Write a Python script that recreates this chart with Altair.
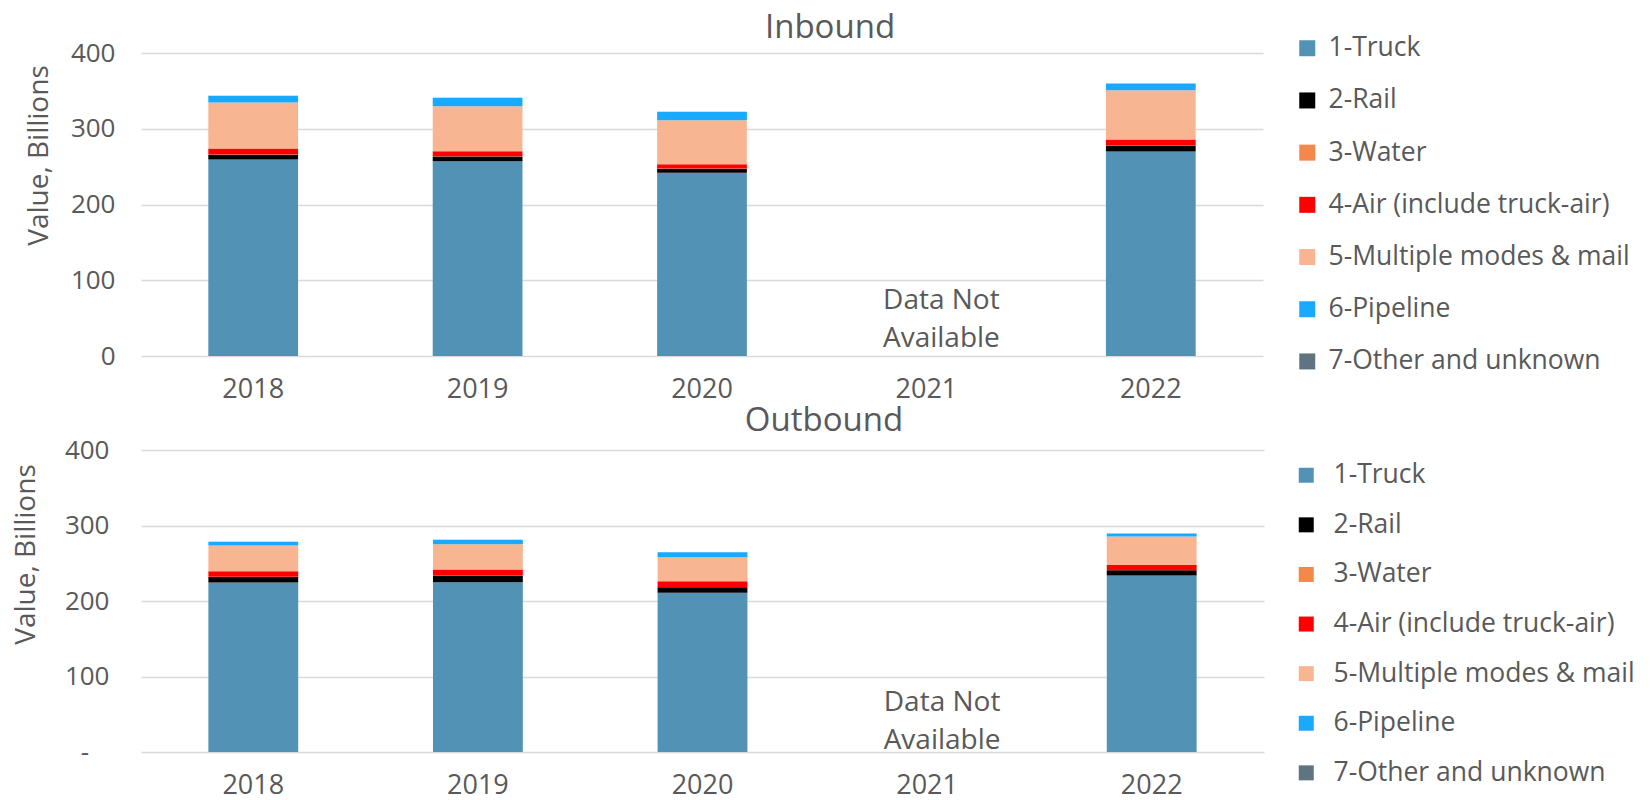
import altair as alt
import pandas as pd

YEARS = ["2018", "2019", "2020", "2021", "2022"]
DATA_YEARS = ["2018", "2019", "2020", "2022"]
MODES = ["1-Truck", "2-Rail", "3-Water", "4-Air (include truck-air)",
         "5-Multiple modes & mail", "6-Pipeline", "7-Other and unknown"]
COLORS = ["#5293B5", "#000000", "#F4874B", "#FF0000", "#F8B591", "#19AAFF", "#5E7481"]

# Inbound values (billions) for 2018, 2019, 2020, 2022
in_truck = [259.3, 257.1, 241.8, 269.9]
in_rail = [6.5, 6.4, 5.5, 8.1]
in_water = [0.2, 0.2, 0.2, 0.2]
in_air = [7.8, 6.6, 5.7, 7.5]
in_multi = [60.7, 59.4, 58.0, 65.1]
in_pipe = [8.8, 11.0, 11.0, 8.8]
in_other = [0.1, 0.1, 0.1, 0.1]

# Outbound values (billions) for 2018, 2019, 2020, 2022
out_truck = [224.5, 224.9, 210.8, 233.7]
out_rail = [7.3, 8.2, 7.3, 6.9]
out_water = [0.2, 0.2, 0.2, 0.2]
out_air = [7.5, 8.4, 7.9, 7.0]
out_multi = [33.9, 33.5, 31.8, 37.5]
out_pipe = [4.9, 5.7, 6.6, 4.0]
out_other = [0.1, 0.1, 0.1, 0.1]

TITLES = ["Inbound", "Outbound"]
NOTE = "Data Not\nAvailable"
FONT = "Open Sans"
TEXT = "#595959"


def build(series):
    rows = []
    for k, (mode, vals) in enumerate(zip(MODES, series)):
        for yr, v in zip(DATA_YEARS, vals):
            rows.append({"year": yr, "mode": mode, "value": v, "ord": k})
    return pd.DataFrame(rows)


def panel(series, title, title_x, title_y, zero_label, note_value,
          ytitle_x, ytitle_y, label_pad, legend_x, legend_y, row_pad,
          sym_size, label_offset, width, height):
    df = build(series)
    x = alt.X("year:N",
              scale=alt.Scale(domain=YEARS, paddingInner=0.6, paddingOuter=0.3),
              axis=alt.Axis(title=None, labelAngle=0, labelPadding=20, ticks=False,
                            domain=False, labelFontSize=27, labelColor=TEXT,
                            labelFont=FONT, grid=False))
    y = alt.Y("value:Q", stack="zero",
              scale=alt.Scale(domain=[0, 400], nice=False),
              axis=alt.Axis(title="Value, Billions", values=[0, 100, 200, 300, 400],
                            labelExpr="datum.value == 0 ? '" + zero_label + "' : datum.label",
                            labelFontSize=26, labelColor=TEXT, labelFont=FONT,
                            labelPadding=label_pad, ticks=False, domain=False,
                            titleFontSize=28, titleFont=FONT, titleColor=TEXT,
                            titleFontWeight="normal", titleX=ytitle_x, titleY=ytitle_y,
                            titleBaseline="middle", titleAlign="center", titleAngle=270,
                            grid=True, gridColor="#D9D9D9", gridWidth=1.5))
    bars = alt.Chart(df).mark_bar().encode(
        x=x, y=y,
        color=alt.Color("mode:N", scale=alt.Scale(domain=MODES, range=COLORS),
                        legend=alt.Legend(title=None, orient="none", legendX=legend_x,
                                          legendY=legend_y, symbolType="square",
                                          symbolSize=sym_size, symbolStrokeWidth=0,
                                          labelFontSize=26.5, labelFont=FONT,
                                          labelColor=TEXT, labelLimit=500,
                                          rowPadding=row_pad, labelOffset=label_offset,
                                          padding=0)),
        order=alt.Order("ord:Q", sort="ascending"),
    )
    note_df = pd.DataFrame({"year": ["2021"], "value": [note_value], "label": [NOTE]})
    note = alt.Chart(note_df).mark_text(
        lineBreak="\n", fontSize=28, font=FONT, color=TEXT, dx=15,
        lineHeight=38, baseline="middle", align="center"
    ).encode(x=alt.X("year:N"), y=alt.Y("value:Q"), text="label:N")
    title_df = pd.DataFrame({"t": [title]})
    ttl = alt.Chart(title_df).mark_text(
        fontSize=33, font=FONT, color=TEXT, baseline="alphabetic", align="center"
    ).encode(x=alt.value(title_x), y=alt.value(title_y), text="t:N")
    return alt.layer(bars, note, ttl).properties(width=width, height=height)


top = panel([in_truck, in_rail, in_water, in_air, in_multi, in_pipe, in_other],
            TITLES[0], 689, -15.4, "0", 72, -102, 102, 26, 1153, -18, 25.2, 256, 8, 1122, 303)
bottom = panel([out_truck, out_rail, out_water, out_air, out_multi, out_pipe, out_other],
               TITLES[1], 683, -19, "-\u00a0\u00a0\u00a0\u200b", 65, -115, 104, 32, 1152, 12, 22.6, 225, 14, 1123, 302)

chart = alt.vconcat(top, bottom, spacing=3).resolve_scale(
    color="independent", x="independent", y="independent"
).resolve_legend(color="independent").configure(
    padding={"left": 4, "top": 3, "right": 5, "bottom": 5}
).configure_view(stroke=None)

chart.save("out.html", embed_options={"renderer": "svg", "actions": False})
